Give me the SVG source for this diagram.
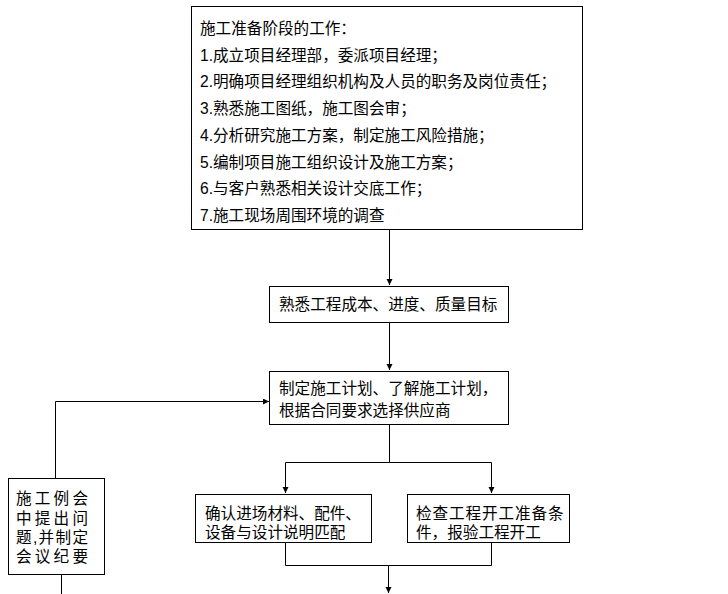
<svg xmlns="http://www.w3.org/2000/svg" width="728" height="594" viewBox="0 0 728 594">
<defs>
<style>
.box{fill:#fff;stroke:#000;stroke-width:1}
.t{font-family:"Liberation Sans","Noto Sans CJK SC",sans-serif;font-size:15.6px;fill:#000}
.c{fill:none;stroke:#000;stroke-width:1}
</style>
<marker id="ah" markerUnits="userSpaceOnUse" markerWidth="7" markerHeight="7" refX="6" refY="3" orient="auto">
<path d="M0,0 L6,3 L0,6 z" fill="#000"/>
</marker>
</defs>
<rect width="728" height="594" fill="#fff"/>
<g id="connectors">
<path class="c" d="M389.5,229 V285" marker-end="url(#ah)"/>
<path class="c" d="M389.5,322 V370" marker-end="url(#ah)"/>
<path class="c" d="M55.5,478 V401.5 H269" marker-end="url(#ah)"/>
<path class="c" d="M61.5,574 V594"/>
<path class="c" d="M389.5,424 V462.5"/>
<path class="c" d="M285.5,462.5 H491.5"/>
<path class="c" d="M285.5,462.5 V493" marker-end="url(#ah)"/>
<path class="c" d="M491.5,462.5 V493" marker-end="url(#ah)"/>
<path class="c" d="M285.5,542 V565.5 H491.5 V542"/>
<path class="c" d="M388.5,565.5 V593" marker-end="url(#ah)"/>
</g>
<g id="node-prep">
<rect class="box" x="191.5" y="6.5" width="391" height="223"/>
<text class="t" x="200" y="34">施工准备阶段的工作：</text>
<text class="t" x="200" y="60.7">1.成立项目经理部，委派项目经理；</text>
<text class="t" x="200" y="87.4">2.明确项目经理组织机构及人员的职务及岗位责任；</text>
<text class="t" x="200" y="114.1">3.熟悉施工图纸，施工图会审；</text>
<text class="t" x="200" y="140.8">4.分析研究施工方案，制定施工风险措施；</text>
<text class="t" x="200" y="167.5">5.编制项目施工组织设计及施工方案；</text>
<text class="t" x="200" y="194.2">6.与客户熟悉相关设计交底工作；</text>
<text class="t" x="200" y="220.9">7.施工现场周围环境的调查</text>
</g>
<g id="node-goals">
<rect class="box" x="269.5" y="286.5" width="239" height="36"/>
<text class="t" x="279" y="310">熟悉工程成本、进度、质量目标</text>
</g>
<g id="node-plan">
<rect class="box" x="269.5" y="371.5" width="239" height="53"/>
<text class="t" x="279" y="394">制定施工计划、了解施工计划，</text>
<text class="t" x="279" y="416">根据合同要求选择供应商</text>
</g>
<g id="node-meeting">
<rect class="box" x="8.5" y="478.5" width="96" height="96"/>
<text class="t" x="16" y="504" textLength="72" lengthAdjust="spacing">施工例会</text>
<text class="t" x="16" y="524" textLength="72" lengthAdjust="spacing">中提出问</text>
<text class="t" x="16" y="543" textLength="72" lengthAdjust="spacing">题,并制定</text>
<text class="t" x="16" y="562" textLength="72" lengthAdjust="spacing">会议纪要</text>
</g>
<g id="node-materials">
<rect class="box" x="195.5" y="494.5" width="176" height="48"/>
<text class="t" x="205" y="519">确认进场材料、配件、</text>
<text class="t" x="205" y="538">设备与设计说明匹配</text>
</g>
<g id="node-check">
<rect class="box" x="407.5" y="494.5" width="162" height="48"/>
<text class="t" x="416" y="519" letter-spacing="0.9">检查工程开工准备条</text>
<text class="t" x="416" y="538">件，报验工程开工</text>
</g>
</svg>
